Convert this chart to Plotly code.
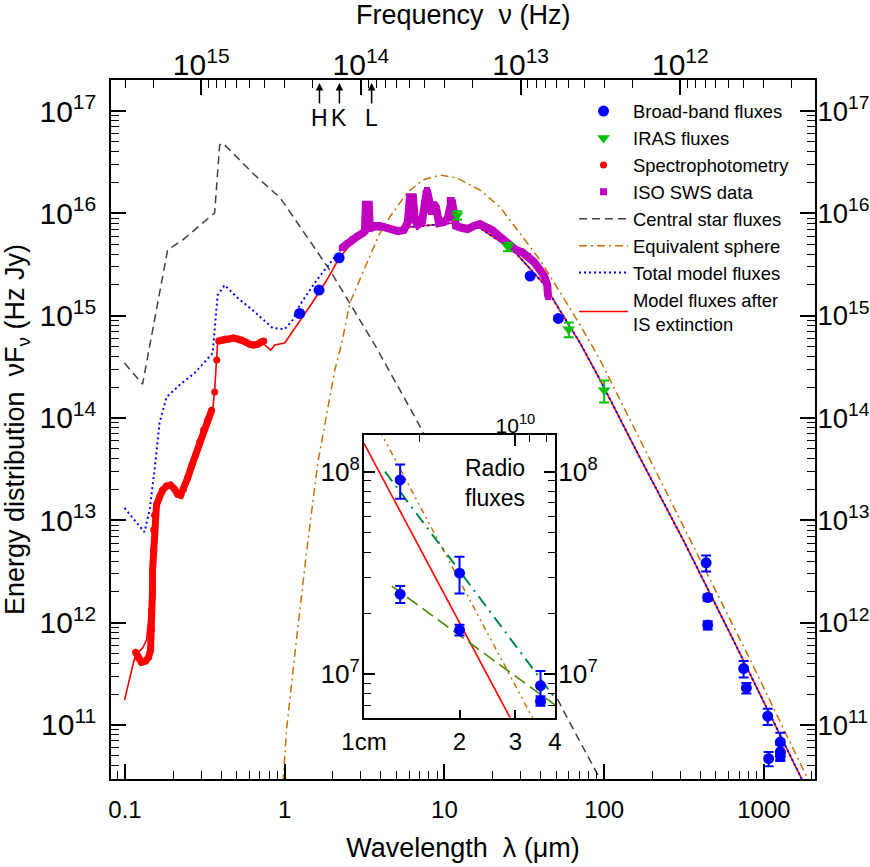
import numpy as np
import plotly.graph_objects as go

C_UM_HZ = 3.0e14  # speed of light in micron*Hz
C_CM_HZ = 3.0e10  # speed of light in cm*Hz

# ---------------- main-panel data (wavelength in micron, nuF_nu in Hz Jy) -------------
bb_lambda = [1.24, 1.64, 2.19, 34.4, 51.7, 435, 445, 445, 747, 777, 1057, 1071, 1268, 1268, 1268]
bb_flux = [1.05e15, 1.78e15, 3.68e15, 2.44e15, 9.4e14, 3.84e12, 1.76e12, 9.46e11, 3.56e11,
           2.3e11, 1.22e11, 4.7e10, 6.8e10, 5.46e10, 4.95e10]
bb_err = [0, 0, 0, 0, 0, 0.68e12, 0.12e12, 0.087e12, 0.65e11, 0.27e11, 0.22e11, 0.75e10,
          1.6e10, 0.9e10, 0.5e10]

iras_lambda = [12, 25, 60, 100]
iras_flux = [9.6e15, 4.72e15, 7.35e14, 1.87e14]
iras_err = [0.9e15, 0.45e15, 1.2e14, 0.45e14]

spec_lambda = [0.1164, 0.1216, 0.1268, 0.1345, 0.1404, 0.1445, 0.1466, 0.1466, 0.1487, 0.1487,
               0.1510, 0.1510, 0.1531, 0.1575, 0.1644, 0.1718, 0.1820, 0.1928, 0.2042, 0.2134,
               0.2230, 0.2328, 0.2466, 0.2612, 0.2767, 0.2931, 0.3105, 0.3290, 0.3485, None,
               0.3641, None, 0.3750, None, 0.3858, 0.4030, 0.4267, 0.4519, 0.4787, 0.5070,
               0.5371, 0.5690, 0.6035, 0.6394, 0.6771, 0.7073, 0.7386]
spec_flux = [5.15e11, 4.50e11, 4.11e11, 4.21e11, 4.60e11, 5.38e11, 8.45e11, 1.32e12, 2.08e12, 3.26e12,
             5.11e12, 8.02e12, 1.12e13, 1.41e13, 1.69e13, 1.97e13, 2.16e13, 2.21e13, 2.02e13, 1.80e13,
             1.76e13, 2.02e13, 2.59e13, 3.39e13, 4.34e13, 5.81e13, 7.62e13, 9.53e13, 1.19e14, None,
             1.79e14, None, 3.68e14, None, 5.65e14, 5.77e14, 5.90e14, 5.90e14, 6.04e14, 5.90e14,
             5.77e14, 5.52e14, 5.27e14, 5.16e14, 5.27e14, 5.52e14, 5.65e14]

iso_lambda = [2.278, 2.483, 2.669, 2.869, 3.083, 3.175, 3.220, 3.363, 3.41, 3.563, 3.941, 4.298,
              4.687, 5.11, 5.57, 5.90, 6.08, 6.35, 6.53, 6.82, 7.23, 7.55, 7.77, 8.00, 8.23, 8.60,
              8.85, 9.24, 9.93, 10.5, 10.8, 11.1, 11.5, 11.8, 12.9, 14.0, 15.3, 16.7, 18.2, 19.9,
              21.6, 23.6, 25.7, 28.1, 30.6, 33.4, 36.4, 39.7, 42.1, 44.0, 44.6]
iso_flux = [4.58e15, 5.13e15, 5.61e15, 6.00e15, 6.41e15, 6.71e15, 1.21e16, 1.21e16, 7.03e15, 7.52e15,
            7.52e15, 7.35e15, 7.03e15, 6.71e15, 6.87e15, 8.22e15, 1.44e16, 1.44e16, 8.61e15, 7.69e15,
            8.22e15, 1.41e16, 1.69e16, 1.35e16, 1.03e16, 1.23e16, 1.15e16, 8.04e15, 8.22e15, 8.99e15,
            1.35e16, 1.35e16, 9.84e15, 7.52e15, 7.18e15, 7.03e15, 7.52e15, 7.86e15, 7.35e15, 6.87e15,
            6.14e15, 5.48e15, 4.69e15, 4.38e15, 4.19e15, 3.83e15, 3.34e15, 2.79e15, 2.44e15, 1.99e15,
            1.52e15]

star_lambda = [0.0993, 0.1288, 0.1847, 0.2293, 0.3641, 0.3913, 0.4088, 0.6486, 0.866, 0.930,
               1.915, 3.67, 7.02, 55.3, 94.4, 109]
star_flux = [3.44e14, 2.14e14, 4.38e15, 5.48e15, 1.01e16, 4.65e16, 4.87e16, 2.37e16, 1.58e16, 1.44e16,
             2.79e15, 5.16e14, 8.34e13, 1.40e11, 2.95e10, 1.92e10]

sphere_lambda = [0.958, 1.029, 1.189, 1.374, 1.61, 2.058, 2.277, 2.556, 3.27, 3.94, 4.55, 5.82,
                 7.33, 9.37, 12.0, 16.7, 22.3, 29.7, 39.7, 55.3, 70.7, 94.4, 168, 347, 823, 1874, 2150]
sphere_flux = [1.84e10, 9.31e10, 7.21e11, 5.11e12, 3.62e13, 2.94e14, 5.40e14, 1.33e15, 3.27e15,
               6.41e15, 9.20e15, 1.58e16, 2.12e16, 2.37e16, 2.21e16, 1.69e16, 1.15e16, 6.41e15,
               3.49e15, 1.52e15, 8.09e14, 3.68e14, 6.08e13, 6.40e12, 4.30e11, 3.02e10, 1.8e10]

total_lambda = [0.0993, 0.1147, 0.1324, 0.1425, 0.1531, 0.1644, 0.182, 0.2197, 0.2728, 0.315,
                0.3539, 0.3802, 0.4206, 0.5003, 0.630, 0.841, 1.0, 1.122, 1.242, 1.587, 2.0, 2.277,
                2.747, 3.41, 4.55, 6.08, 8.11, 11.3, 16.7, 26.9, 41.5, 53.0, 70.7, 94.4, 168, 313,
                644, 1742, 2100]
total_flux = [1.32e13, 1.00e13, 7.67e12, 1.26e13, 3.10e13, 8.92e13, 1.60e14, 2.10e14, 2.75e14, 3.52e14,
              4.31e14, 1.59e15, 1.99e15, 1.52e15, 1.13e15, 7.57e14, 7.39e14, 9.06e14, 1.27e15, 2.23e15,
              3.49e15, 4.58e15, 5.74e15, 6.87e15, 7.03e15, 7.35e15, 7.69e15, 8.04e15, 7.18e15, 4.38e15,
              2.08e15, 1.13e15, 5.40e14, 2.35e14, 4.06e13, 6.40e12, 6.75e11, 2.88e10, 1.6e10]

model_lambda = [0.0993, 0.1067, 0.1147, 0.1216, 0.1288, 0.1364, 0.1425, 0.1466, 0.1510, 0.1553,
                0.1644, 0.1795, 0.1958, 0.2134, 0.2262, 0.2537, 0.2931, 0.3388, 0.3539, 0.3641,
                0.3750, 0.3802, 0.4206, 0.5224, 0.6486, 0.7280, 0.817, 0.866, 1.0, 1.242, 1.498,
                1.834, 2.212, 2.747, 3.41, 4.55, 6.08, 8.11, 11.3, 16.7, 26.9, 41.5, 53.0, 70.7,
                94.4, 168, 313, 644, 1742, 2100]
model_flux = [1.75e11, 2.74e11, 4.50e11, 5.15e11, 5.64e11, 6.75e11, 1.32e12, 3.26e12, 8.02e12, 1.26e13,
              1.76e13, 2.11e13, 2.07e13, 1.85e13, 1.93e13, 3.10e13, 5.43e13, 1.07e14, 1.19e14, 1.87e14,
              3.52e14, 5.52e14, 5.77e14, 5.77e14, 5.40e14, 5.40e14, 4.61e14, 5.16e14, 5.40e14, 8.85e14,
              1.36e15, 2.23e15, 3.74e15, 5.48e15, 6.87e15, 7.03e15, 7.35e15, 7.69e15, 8.04e15, 7.18e15,
              4.38e15, 2.08e15, 1.13e15, 5.40e14, 2.35e14, 4.06e13, 6.40e12, 6.75e11, 2.88e10, 1.6e10]

band_names = ["H", "K", "L"]
band_lambda = [1.65, 2.2, 3.5]

# ---------------- inset data (wavelength in cm) ----------------
radio_lambda_cm = [1.3, 1.3, 2.0, 2.0, 3.6, 3.6]
radio_flux = [9.1e7, 2.48e7, 3.15e7, 1.65e7, 8.75e6, 7.36e6]
radio_err = [1.75e7, 0.24e7, 0.65e7, 0.1e7, 1.6e6, 0.4e6]
inset_model_cm = [1.0, 2.9]
inset_model_flux = [1.38e8, 6.0e6]
inset_sphere_cm = [1.12, 3.45]
inset_sphere_flux = [1.6e8, 5.8e6]
inset_fit1_cm = [1.165, 4.0]
inset_fit1_flux = [1.0e8, 7.59e6]
inset_fit2_cm = [1.223, 4.0]
inset_fit2_flux = [2.72e7, 7.03e6]

# ---------------- ranges ----------------
lam_min, lam_max = 0.0817, 2090.0
f_min_log, f_max_log = 10.472, 17.303
inset_lam_min, inset_lam_max = 1.0, 4.0
inset_f_log = [6.784, 8.181]

FONT = "Liberation Sans, Arial, Helvetica, sans-serif"
BLUE = "#0000ff"
GREEN = "#00c000"
RED = "#ff0000"
MAGENTA = "#c000c0"
GRAY = "#404040"
ORANGE = "#c8700c"

fig = go.Figure()

# main panel lines
fig.add_trace(go.Scatter(x=star_lambda, y=star_flux, mode="lines", name="Central star fluxes",
                         line=dict(color=GRAY, width=1.5, dash="8px,5px"), legendrank=5))
fig.add_trace(go.Scatter(x=sphere_lambda, y=sphere_flux, mode="lines", name="Equivalent sphere",
                         line=dict(color=ORANGE, width=1.5, dash="8px,4px,2px,4px"), legendrank=6))
fig.add_trace(go.Scatter(x=model_lambda, y=model_flux, mode="lines",
                         name="Model fluxes after<br>IS extinction",
                         line=dict(color=RED, width=1.6), legendrank=8))
fig.add_trace(go.Scatter(x=total_lambda, y=total_flux, mode="lines", name="Total model fluxes",
                         line=dict(color=BLUE, width=2, dash="2px,3px"), legendrank=7))
fig.add_trace(go.Scatter(x=spec_lambda, y=spec_flux, mode="lines+markers", showlegend=False,
                         connectgaps=False, line=dict(color=RED, width=7),
                         marker=dict(color=RED, size=7, symbol="circle")))
fig.add_trace(go.Scatter(x=iso_lambda, y=iso_flux, mode="lines+markers", showlegend=False,
                         line=dict(color=MAGENTA, width=8),
                         marker=dict(color=MAGENTA, size=6, symbol="square")))
fig.add_trace(go.Scatter(x=iras_lambda, y=iras_flux, mode="markers", name="IRAS fluxes",
                         marker=dict(color=GREEN, size=11, symbol="triangle-down"),
                         error_y=dict(type="data", array=iras_err, color=GREEN, thickness=2, width=5),
                         legendrank=2))
fig.add_trace(go.Scatter(x=bb_lambda, y=bb_flux, mode="markers", name="Broad-band fluxes",
                         marker=dict(color=BLUE, size=11, symbol="circle"),
                         error_y=dict(type="data", array=bb_err, color=BLUE, thickness=2, width=5),
                         legendrank=1))
# legend-only entries for the dense data sets
fig.add_trace(go.Scatter(x=[None], y=[None], mode="markers", name="Spectrophotometry",
                         marker=dict(color=RED, size=7, symbol="circle"), legendrank=3))
fig.add_trace(go.Scatter(x=[None], y=[None], mode="markers", name="ISO SWS data",
                         marker=dict(color=MAGENTA, size=7, symbol="square"), legendrank=4))

# the same broad-band points expressed in frequency, bound to the top/right axes (invisible)
fig.add_trace(go.Scatter(x=[C_UM_HZ / l for l in bb_lambda], y=bb_flux, mode="markers",
                         marker=dict(opacity=0, color=BLUE), showlegend=False, hoverinfo="skip",
                         xaxis="x2", yaxis="y2"))

# inset traces
fig.add_trace(go.Scatter(x=inset_model_cm, y=inset_model_flux, mode="lines", showlegend=False,
                         line=dict(color=RED, width=1.6), xaxis="x3", yaxis="y3"))
fig.add_trace(go.Scatter(x=inset_sphere_cm, y=inset_sphere_flux, mode="lines", showlegend=False,
                         line=dict(color=ORANGE, width=1.5, dash="6px,4px,2px,4px,2px,4px"),
                         xaxis="x3", yaxis="y3"))
fig.add_trace(go.Scatter(x=inset_fit1_cm, y=inset_fit1_flux, mode="lines", showlegend=False,
                         line=dict(color="#008848", width=2, dash="12px,6px,2px,6px"),
                         xaxis="x3", yaxis="y3"))
fig.add_trace(go.Scatter(x=inset_fit2_cm, y=inset_fit2_flux, mode="lines", showlegend=False,
                         line=dict(color="#4a8c00", width=1.6, dash="13px,6px"),
                         xaxis="x3", yaxis="y3"))
fig.add_trace(go.Scatter(x=radio_lambda_cm, y=radio_flux, mode="markers", showlegend=False,
                         marker=dict(color=BLUE, size=11, symbol="circle"),
                         error_y=dict(type="data", array=radio_err, color=BLUE, thickness=2, width=5),
                         xaxis="x3", yaxis="y3"))
fig.add_trace(go.Scatter(x=[C_CM_HZ / l for l in radio_lambda_cm], y=radio_flux, mode="markers",
                         marker=dict(opacity=0, color=BLUE), showlegend=False, hoverinfo="skip",
                         xaxis="x4", yaxis="y4"))

TICK = 24
tickfont = dict(family=FONT, size=TICK, color="black")
common_axis = dict(showline=True, linewidth=2, linecolor="black", showgrid=False, zeroline=False,
                   ticks="inside", ticklen=15, tickwidth=1.5, tickcolor="black", tickfont=tickfont)
minor_main = dict(ticks="inside", ticklen=8, tickwidth=1.2, tickcolor="black", dtick="D1", showgrid=False)
minor_inset = dict(ticks="inside", ticklen=7, tickwidth=1.2, tickcolor="black", dtick="D1",
                   showgrid=False)
inset_axis = dict(showline=True, linewidth=2, linecolor="black", showgrid=False, zeroline=False,
                  ticks="inside", ticklen=11, tickwidth=1.5, tickcolor="black",
                  tickfont=dict(family=FONT, size=21, color="black"))

inset_x_dom = [0.3594, 0.6307]
inset_y_dom = [0.0877, 0.4921]

fig.update_layout(
    width=870, height=867,
    margin=dict(l=111, r=55, t=80, b=88, autoexpand=False),
    paper_bgcolor="white", plot_bgcolor="white",
    font=dict(family=FONT, color="black"),
    xaxis=dict(type="log", range=[np.log10(lam_min), np.log10(lam_max)], dtick=1,
               exponentformat="none", minor=minor_main, anchor="y",
               title=dict(text="Wavelength  λ (μm)", font=dict(family=FONT, size=27), standoff=16),
               ticklabelstandoff=8, **common_axis),
    xaxis2=dict(type="log", overlaying="x", side="top", anchor="y2",
                range=[np.log10(C_UM_HZ / lam_min), np.log10(C_UM_HZ / lam_max)], dtick=1,
                exponentformat="power", showexponent="all", minor=minor_main,
                ticklabelstandoff=-8, **common_axis),
    yaxis=dict(type="log", range=[f_min_log, f_max_log], dtick=1, exponentformat="power",
               showexponent="all", minor=minor_main, anchor="x",
               title=dict(text="Energy distribution  νF<sub>ν</sub> (Hz Jy)",
                          font=dict(family=FONT, size=27), standoff=8),
               ticklabelstandoff=8, **common_axis),
    yaxis2=dict(type="log", overlaying="y", side="right", anchor="x2",
                range=[f_min_log, f_max_log], dtick=1, exponentformat="power", showexponent="all",
                minor=minor_main, ticklabelstandoff=-4,
                **dict(common_axis, tickfont=dict(family=FONT, size=22, color="black"))),
    xaxis3=dict(type="log", domain=inset_x_dom, anchor="y3",
                range=[np.log10(inset_lam_min), np.log10(inset_lam_max)],
                tickmode="array", tickvals=[1, 2, 3, 4], ticktext=["1cm", "2", "3", "4"],
                ticklabelstandoff=2,
                **dict(inset_axis, ticklen=8, tickfont=dict(family=FONT, size=24, color="black"))),
    xaxis4=dict(type="log", overlaying="x3", side="top", anchor="y4",
                range=[np.log10(C_CM_HZ / inset_lam_min), np.log10(C_CM_HZ / inset_lam_max)],
                tickmode="array", tickvals=[1e10], ticktext=["10<sup>10</sup>"],
                minor=dict(ticks="inside", ticklen=7, tickwidth=1.2, tickcolor="black",
                           tickvals=[2e10, 9e9, 8e9], showgrid=False),
                ticklabelstandoff=-8, **inset_axis),
    yaxis3=dict(type="log", domain=inset_y_dom, anchor="x3", range=inset_f_log, dtick=1,
                exponentformat="power", showexponent="all", minor=minor_inset,
                ticklabelstandoff=-2, **inset_axis),
    yaxis4=dict(type="log", overlaying="y3", side="right", anchor="x4", range=inset_f_log, dtick=1,
                exponentformat="power", showexponent="all", minor=minor_inset,
                ticklabelstandoff=-3, **inset_axis),
    legend=dict(x=0.6577, y=0.982, xanchor="left", yanchor="top", bgcolor="rgba(0,0,0,0)",
                font=dict(family=FONT, size=18.4, color="black"), itemwidth=49,
                traceorder="normal"),
    showlegend=True,
)

# white background for inset
fig.add_shape(type="rect", xref="x3", yref="y3", x0=inset_lam_min, x1=inset_lam_max,
              y0=10 ** inset_f_log[0], y1=10 ** inset_f_log[1], fillcolor="white",
              line=dict(width=0), layer="below")

# band markers H, K, L
for name, lam in zip(band_names, band_lambda):
    fig.add_annotation(x=np.log10(lam), y=1.0, xref="x", yref="paper", text=name,
                       showarrow=True, arrowhead=2, arrowsize=1, arrowwidth=1.5, arrowcolor="black",
                       ax=0, ay=38, standoff=3, font=dict(family=FONT, size=23, color="black"))

# top-axis title
fig.add_annotation(x=0.5, y=1.093, xref="paper", yref="paper", text="Frequency  ν (Hz)",
                   showarrow=False, yanchor="middle", font=dict(family=FONT, size=27, color="black"))

fig.add_annotation(x=0.5455, y=0.4235, xref="paper", yref="paper", text="Radio<br>fluxes",
                   showarrow=False, font=dict(family=FONT, size=23, color="black"))

fig.write_html("out.html", config={"displayModeBar": False},
               post_script="document.body.style.margin='0px';")
